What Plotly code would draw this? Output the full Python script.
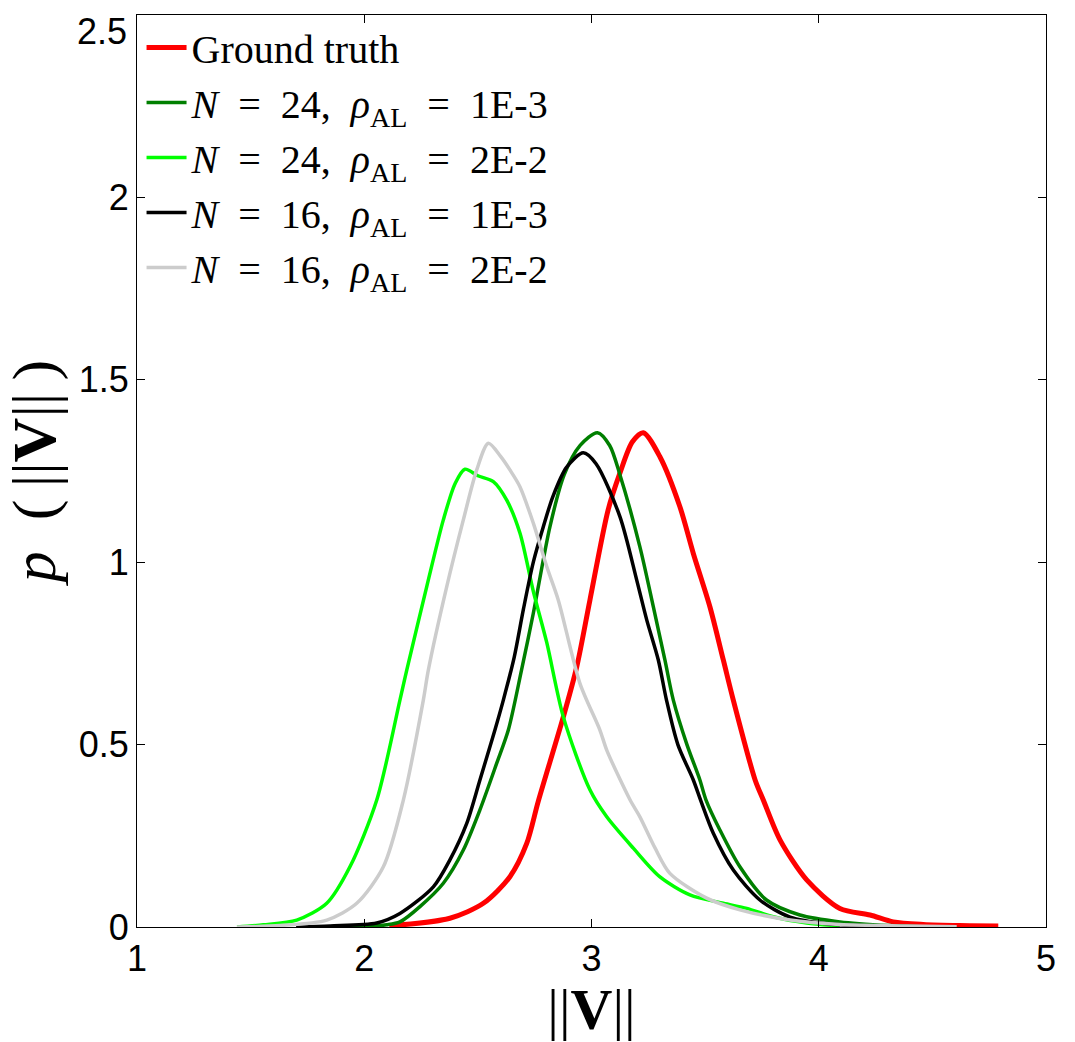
import plotly.graph_objects as go

# Ground truth
gt_x = [2.11, 2.377, 2.524, 2.641, 2.715, 2.766, 2.876, 2.935, 2.993, 3.073, 3.125, 3.18, 3.228, 3.301, 3.389, 3.448, 3.521, 3.58, 3.624, 3.72, 3.756, 3.83, 3.947, 4.093, 4.226, 4.328, 4.46, 4.62, 4.79]
gt_y = [0.003, 0.024, 0.065, 0.138, 0.229, 0.345, 0.576, 0.713, 0.896, 1.143, 1.244, 1.33, 1.355, 1.289, 1.152, 1.024, 0.878, 0.732, 0.622, 0.403, 0.348, 0.238, 0.129, 0.051, 0.033, 0.014, 0.007, 0.004, 0.003]

# N=24, rho=1E-3
n24a_x = [1.90, 2.0, 2.099, 2.157, 2.245, 2.348, 2.436, 2.509, 2.583, 2.634, 2.692, 2.744, 2.817, 2.88, 2.95, 3.026, 3.08, 3.125, 3.213, 3.272, 3.323, 3.36, 3.42, 3.477, 3.504, 3.565, 3.653, 3.77, 3.917, 4.093, 4.31, 4.45]
n24a_y = [0.0, 0.001, 0.006, 0.014, 0.056, 0.12, 0.211, 0.321, 0.449, 0.54, 0.704, 0.86, 1.097, 1.24, 1.32, 1.355, 1.32, 1.24, 1.042, 0.878, 0.732, 0.622, 0.50, 0.403, 0.348, 0.266, 0.165, 0.074, 0.033, 0.014, 0.004, 0.001]

# N=24, rho=2E-2
n24b_x = [1.44, 1.556, 1.703, 1.835, 1.937, 2.055, 2.157, 2.187, 2.275, 2.348, 2.40, 2.443, 2.50, 2.568, 2.627, 2.685, 2.744, 2.803, 2.876, 2.993, 3.067, 3.184, 3.30, 3.433, 3.58, 3.683, 3.80, 3.947, 4.093]
n24b_y = [0.0, 0.006, 0.019, 0.065, 0.165, 0.348, 0.622, 0.704, 0.933, 1.116, 1.216, 1.255, 1.237, 1.221, 1.17, 1.08, 0.92, 0.78, 0.576, 0.376, 0.302, 0.216, 0.138, 0.088, 0.065, 0.051, 0.028, 0.011, 0.003]

# N=16, rho=1E-3
n16a_x = [1.70, 1.85, 2.055, 2.157, 2.304, 2.377, 2.451, 2.509, 2.553, 2.575, 2.612, 2.66, 2.70, 2.744, 2.788, 2.83, 2.89, 2.964, 3.02, 3.125, 3.199, 3.243, 3.294, 3.33, 3.38, 3.448, 3.48, 3.536, 3.624, 3.741, 3.874, 4.035, 4.24, 4.35]
n16a_y = [0.0, 0.003, 0.011, 0.037, 0.11, 0.184, 0.284, 0.403, 0.494, 0.54, 0.622, 0.74, 0.87, 1.0, 1.097, 1.18, 1.26, 1.30, 1.27, 1.125, 0.951, 0.842, 0.732, 0.622, 0.50, 0.403, 0.348, 0.257, 0.156, 0.074, 0.027, 0.009, 0.003, 0.001]

# N=16, rho=2E-2
n16b_x = [1.44, 1.63, 1.835, 1.967, 2.084, 2.172, 2.26, 2.282, 2.363, 2.436, 2.495, 2.546, 2.60, 2.641, 2.685, 2.744, 2.803, 2.854, 2.949, 3.037, 3.067, 3.17, 3.213, 3.28, 3.345, 3.507, 3.653, 3.874, 4.093, 4.387, 4.607]
n16b_y = [0.0, 0.004, 0.019, 0.065, 0.165, 0.348, 0.622, 0.704, 0.933, 1.116, 1.253, 1.326, 1.29, 1.253, 1.207, 1.107, 0.988, 0.896, 0.668, 0.54, 0.485, 0.348, 0.302, 0.216, 0.147, 0.079, 0.047, 0.019, 0.007, 0.003, 0.001]

x_ticks = [1, 2, 3, 4, 5]
y_ticks = [0, 0.5, 1, 1.5, 2, 2.5]
y_ticktext = ["0", "0.5", "1", "1.5", "2", "2.5"]

SP = "\u2002"
names = [
    "Ground truth",
    f"<i>N</i>{SP}={SP}24,{SP}<i>ρ</i><sub>AL</sub>{SP}={SP}1E-3",
    f"<i>N</i>{SP}={SP}24,{SP}<i>ρ</i><sub>AL</sub>{SP}={SP}2E-2",
    f"<i>N</i>{SP}={SP}16,{SP}<i>ρ</i><sub>AL</sub>{SP}={SP}1E-3",
    f"<i>N</i>{SP}={SP}16,{SP}<i>ρ</i><sub>AL</sub>{SP}={SP}2E-2",
]
series = [(gt_x, gt_y), (n24a_x, n24a_y), (n24b_x, n24b_y), (n16a_x, n16a_y), (n16b_x, n16b_y)]
colors = ["#ff0000", "#007f00", "#00ff00", "#000000", "#cccccc"]
widths = [5, 3.5, 3.5, 3.5, 3.5]

fig = go.Figure()
for (xs, ys), nm, c, w in zip(series, names, colors, widths):
    fig.add_trace(go.Scatter(x=xs, y=ys, mode="lines", name=nm,
                             line=dict(color=c, width=w, shape="spline", smoothing=0.8)))

tick_font = dict(family="Liberation Sans, Arial", size=36, color="black")
axis_common = dict(showline=True, linecolor="black", linewidth=1, mirror="ticks",
                   ticks="inside", ticklen=8, tickcolor="black", showgrid=False, zeroline=False,
                   ticklabeloverflow="allow", automargin=False, tickfont=tick_font)

title_font = dict(family="Liberation Serif, serif", size=58, color="black")

# the top y label sits just inside the frame's top edge (as in the reference)
y_ticktext_axis = y_ticktext[:-1] + [""]

fig.update_layout(
    width=1075, height=1042,
    margin=dict(l=137, r=29, t=15, b=115, autoexpand=False),
    paper_bgcolor="white", plot_bgcolor="white",
    xaxis=dict(range=[1, 5], tickvals=x_ticks, ticktext=[str(v) for v in x_ticks],
               title=dict(text="||<b>V</b>||", font=title_font, standoff=8),
               **axis_common),
    yaxis=dict(range=[0, 2.5], tickvals=y_ticks, ticktext=y_ticktext_axis,
               title=dict(text="<i>p</i>\u2002(\u2009||<b>V</b>||\u2009)", font=dict(family="Liberation Serif, serif", size=62, color="black"), standoff=14),
               **axis_common),
    legend=dict(x=0.005, y=1.0, xanchor="left", yanchor="top", bgcolor="rgba(0,0,0,0)",
                font=dict(family="Liberation Serif, serif", size=40, color="black"),
                itemwidth=40, tracegroupgap=0),
    showlegend=True,
)

fig.add_annotation(x=0, xref="paper", y=y_ticks[-1], yref="y", text=y_ticktext[-1],
                   showarrow=False, xanchor="right", yanchor="top", xshift=-8, yshift=6,
                   font=tick_font)

fig.write_html("out.html")
